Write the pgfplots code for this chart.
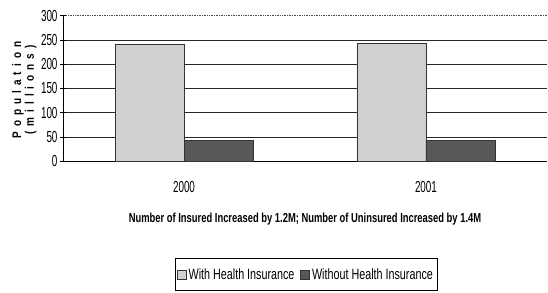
\documentclass[border=0pt]{standalone}
\usepackage{fontspec}
\setmainfont{Liberation Sans}[FakeStretch=0.72]
\newfontfamily\tickfont{Liberation Sans}[FakeStretch=0.62]
\newfontfamily\spaced{Liberation Sans}[FakeStretch=0.8,LetterSpace=40]
\usepackage{pgfplots}
\pgfplotsset{compat=1.18}
\definecolor{lightbar}{RGB}{208,208,208}
\definecolor{darkbar}{RGB}{88,88,88}
\begin{document}
\begin{tikzpicture}[x=1bp,y=1bp]
\begin{axis}[
  scale only axis,
  width=484bp, height=145.6bp,
  ybar=0pt, bar width=69bp,
  xmin=-0.5, xmax=1.5,
  ymin=0, ymax=300,
  xtick={0,1}, xticklabels={2000,2001},
  x tick style={draw=none},
  extra x ticks={-0.5,0.5,1.5},
  extra x tick labels={},
  extra x tick style={major tick length=5bp, tick align=outside, tick style={draw=black}, grid=none},
  ytick={0,50,...,250},
  extra y ticks={300},
  extra y tick style={major grid style={densely dotted, black!70, line width=0.8bp}},
  ymajorgrids,
  major grid style={black!85, line width=0.7bp},
  y tick style={black, line width=0.7bp},
  major tick length=6bp, tick align=center,
  axis lines*=left,
  axis line style={black, line width=0.8bp},
  /pgf/number format/assume math mode=true,
  ticklabel style={font=\tickfont\fontsize{16}{16}\selectfont},
  yticklabel style={xshift=1bp},
  xticklabel style={yshift=-14bp},
  clip=false,
  xlabel={\bfseries\fontsize{13.1}{14}\selectfont Number of Insured Increased by 1.2M; Number of Uninsured Increased by 1.4M},
  xlabel style={at={(axis description cs:0.5,-0.395)}, anchor=center},
  ylabel={},
  legend style={at={(axis description cs:0.502,-0.665)}, anchor=north,
    draw=black, line width=0.6bp, legend columns=2,
    font=\fontsize{15}{15}\selectfont, inner xsep=2bp, inner ysep=8bp,
    /tikz/every even column/.append style={column sep=4bp}},
  legend image code/.code={\draw[#1, line width=0.6bp] (0bp,-4.5bp) rectangle (9bp,4.5bp);},
]
\addplot[fill=lightbar, draw=black!80, line width=0.7bp] coordinates {(0,241.5) (1,242.7)};
\addplot[fill=darkbar, draw=black!80, line width=0.7bp] coordinates {(0,42.3) (1,43.7)};
\legend{With Health Insurance, Without Health Insurance}
\node[rotate=90, align=center, inner sep=0pt, font=\spaced\bfseries\fontsize{12.5}{10}\selectfont]
  at (axis description cs:-0.08,0.49) {Population\\(millions)};
\coordinate (bl) at (axis description cs:-0.1302,-0.9045);
\coordinate (tr) at (axis description cs:1.0021,1.1078);
\end{axis}
\pgfresetboundingbox
\path[use as bounding box] (bl) rectangle (tr);
\end{tikzpicture}
\end{document}
